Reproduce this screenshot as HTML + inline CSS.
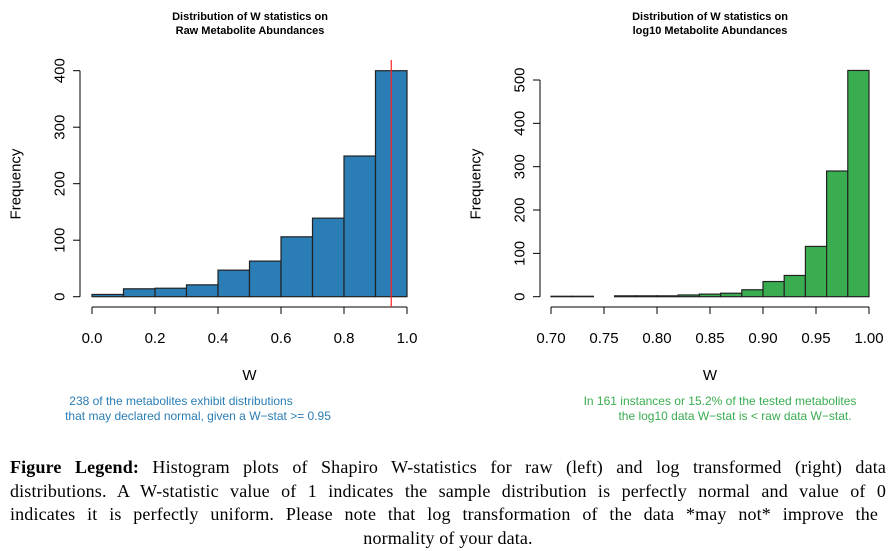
<!DOCTYPE html>
<html><head><meta charset="utf-8">
<style>
body{margin:0;background:#fff;width:896px;height:551px;overflow:hidden;position:relative;font-family:"Liberation Sans",sans-serif}
svg{position:absolute;left:0;top:0}
#legend{position:absolute;left:10px;top:456px;width:876px;font-family:"Liberation Serif",serif;font-size:18px;line-height:23.5px;color:#000}
#legend div{text-align:justify;text-align-last:justify;white-space:nowrap;letter-spacing:0.15px}
#legend div.last{text-align:center;text-align-last:center}
</style></head><body>
<svg id="chart" width="896" height="451"></svg>
<div id="legend">
<div style="white-space:normal"><b>Figure Legend:</b> Histogram plots of Shapiro W-statistics for raw (left) and log transformed (right) data</div>
<div style="white-space:normal">distributions. A W-statistic value of 1 indicates the sample distribution is perfectly normal and value of 0</div>
<div style="white-space:normal;width:868px">indicates it is perfectly uniform. Please note that log transformation of the data *may not* improve the</div>
<div class="last">normality of your data.</div>
</div>
<script>
const rawBreaks=[0,0.1,0.2,0.3,0.4,0.5,0.6,0.7,0.8,0.9,1.0];
const rawCounts=[4,14,15,21,47,63,106,139,249,400];
const rawXTicks=[0,0.2,0.4,0.6,0.8,1.0];
const rawYTicks=[0,100,200,300,400];
const cutoff=0.95;
const logBreaks=[0.70,0.72,0.74,0.76,0.78,0.80,0.82,0.84,0.86,0.88,0.90,0.92,0.94,0.96,0.98,1.00];
const logCounts=[1,1,0,2,2,2,4,6,8,16,35,49,116,290,522];
const logXTicks=[0.70,0.75,0.80,0.85,0.90,0.95,1.00];
const logYTicks=[0,100,200,300,400,500];

const svg=document.getElementById('chart');
const NS='http://www.w3.org/2000/svg';
function mk(tag,attrs,parent){const e=document.createElementNS(NS,tag);for(const k in attrs)e.setAttribute(k,attrs[k]);(parent||svg).appendChild(e);return e;}
function txt(s,attrs,parent){const e=mk('text',attrs,parent);e.textContent=s;return e;}

function panel(o){
  const g=mk('g',{});
  
  
  const xs=v=>o.x0+(v-o.xmin)/(o.xmax-o.xmin)*(o.x1-o.x0);
  const ys=v=>o.y0-v*o.yscale;
  o.counts.forEach((c,i)=>{
    const r=mk('rect',{x:xs(o.breaks[i]),y:ys(c),width:xs(o.breaks[i+1])-xs(o.breaks[i]),height:o.y0-ys(c),fill:o.color,stroke:'#222','stroke-width':1.2},g);
    
    
  });
  const xa=mk('g',{},g);
  
  
  const t0=o.xticks[0],t1=o.xticks[o.xticks.length-1];
  mk('line',{x1:xs(t0),x2:xs(t1),y1:307,y2:307,stroke:'#000','stroke-width':1},xa);
  o.xticks.forEach(t=>{
    mk('line',{x1:xs(t),x2:xs(t),y1:307,y2:314,stroke:'#000'},xa);
    txt(t.toFixed(o.dec),{x:xs(t),y:343,'text-anchor':'middle','font-size':15},xa);
  });
  const ya=mk('g',{},g);
  
  
  const yt1=o.yticks[o.yticks.length-1];
  mk('line',{x1:o.yx,x2:o.yx,y1:ys(0),y2:ys(yt1),stroke:'#000'},ya);
  o.yticks.forEach(t=>{
    mk('line',{x1:o.yx,x2:o.yx-7,y1:ys(t),y2:ys(t),stroke:'#000'},ya);
    txt(String(t),{x:o.yx-20,y:ys(t),'text-anchor':'middle','font-size':15,transform:`rotate(-90 ${o.yx-20} ${ys(t)})`,'dominant-baseline':'central'},ya);
  });
  const yt=txt('Frequency',{x:o.yx-64,y:184,'text-anchor':'middle','font-size':15,transform:`rotate(-90 ${o.yx-64} 184)`,'dominant-baseline':'central'},g);
  
  const xt=txt('W',{x:(xs(t0)+xs(t1))/2,y:380,'text-anchor':'middle','font-size':15},g);
  
  const ti=txt(o.title[0],{x:o.tx,y:20,'text-anchor':'middle','font-size':11,'font-weight':'bold'},g);
  
  txt(o.title[1],{x:o.tx,y:34,'text-anchor':'middle','font-size':11,'font-weight':'bold'},g);
  const n1=txt(o.note[0],{x:o.nx[0],y:405,'text-anchor':'middle','font-size':12,fill:o.color},g);
  
  txt(o.note[1],{x:o.nx[1],y:420,'text-anchor':'middle','font-size':12,fill:o.color},g);
  return {xs,ys,g};
}
const L=panel({name:'raw-histogram',breaks:rawBreaks,counts:rawCounts,xticks:rawXTicks,yticks:rawYTicks,xmin:0,xmax:1,x0:92,x1:407,y0:296.7,yscale:226/400,yx:80,color:'#2a7db5',dec:1,
  title:['Distribution of W statistics on','Raw Metabolite Abundances'],tx:250,note:['238 of the metabolites exhibit distributions','that may declared normal, given a W\u2212stat >= 0.95'],nx:[181,198]});
const rl=mk('line',{x1:L.xs(cutoff),x2:L.xs(cutoff),y1:60,y2:307,stroke:'#ff2020','stroke-width':1.2});


panel({name:'log10-histogram',breaks:logBreaks,counts:logCounts,xticks:logXTicks,yticks:logYTicks,xmin:0.7,xmax:1.0,x0:551,x1:869,y0:296.7,yscale:0.4334,yx:540,color:'#3aad50',dec:2,
  title:['Distribution of W statistics on','log10 Metabolite Abundances'],tx:710,note:['In 161 instances or 15.2% of the tested metabolites','the log10 data W\u2212stat is < raw data W\u2212stat.'],nx:[720,735]});
</script>
</body></html>
